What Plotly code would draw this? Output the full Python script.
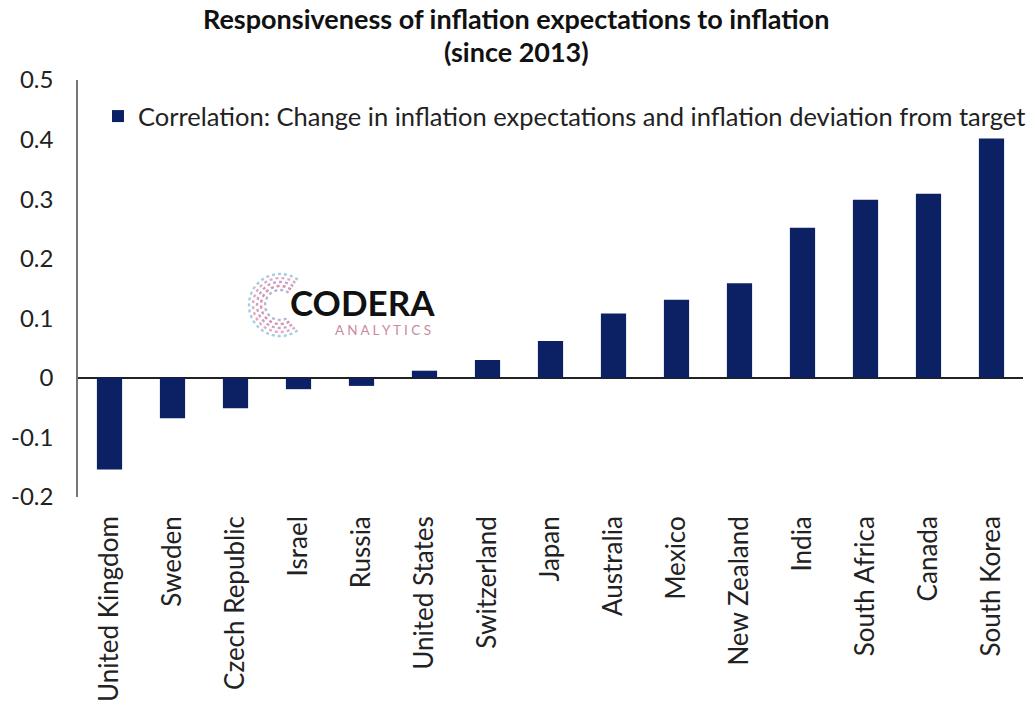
import math
import plotly.graph_objects as go

countries = [
    "United Kingdom", "Sweden", "Czech Republic", "Israel", "Russia",
    "United States", "Switzerland", "Japan", "Australia", "Mexico",
    "New Zealand", "India", "South Africa", "Canada", "South Korea",
]
correlation = [
    -0.154, -0.068, -0.051, -0.019, -0.0135,
    0.012, 0.030, 0.062, 0.108, 0.131,
    0.159, 0.252, 0.299, 0.309, 0.402,
]
y_ticks = [0.5, 0.4, 0.3, 0.2, 0.1, 0, -0.1, -0.2]
y_tick_labels = ["0.5", "0.4", "0.3", "0.2", "0.1", "0", "-0.1", "-0.2"]

NAVY = "#0c2163"
FONT = "Lato"

# Canvas and plot-area geometry (pixels)
W, H = 1031, 702
L, R, T, B = 78, 8, 80, 205
pw, ph = W - L - R, H - T - B


def px_x(x):
    return (x - L) / pw


def px_y(y):
    return (H - B - y) / ph


fig = go.Figure()
fig.add_trace(go.Bar(
    x=countries,
    y=correlation,
    name="Correlation: Change in inflation expectations and inflation deviation from target",
    marker=dict(color=NAVY, line=dict(width=0)),
    showlegend=True,
))

# Brand mark: dotted arcs forming a "C" plus the wordmark
arc_colors = ["#a6cbe6", "#e9a9bd", "#c7a3cc", "#d991aa", "#b7b4da"]
cx, cy = 280, 305
for i, col in enumerate(arc_colors):
    r = 31 - i * 4
    pts = []
    for k in range(0, 41):
        a = math.radians(55 + k * 6.25)
        pts.append((cx + r * math.cos(a), cy - r * math.sin(a)))
    path = "M " + " L ".join(f"{px_x(p):.4f},{px_y(q):.4f}" for p, q in pts)
    fig.add_shape(type="path", path=path, xref="paper", yref="paper",
                  line=dict(color=col, width=2.4, dash="dot"), layer="below")

fig.add_annotation(text="<b>CODERA</b>", x=px_x(288), y=px_y(302),
                   xref="paper", yref="paper", xanchor="left", yanchor="middle",
                   showarrow=False,
                   font=dict(family=FONT, size=35, color="#111111"))
fig.add_annotation(text="A N A L Y T I C S", x=px_x(333), y=px_y(330),
                   xref="paper", yref="paper", xanchor="left", yanchor="middle",
                   showarrow=False,
                   font=dict(family=FONT, size=13.5, color="#c98aa2"))

# Two-line title, centred on the page
fig.add_annotation(text="<b>Responsiveness of inflation expectations to inflation</b>",
                   x=px_x(516), y=px_y(18), xref="paper", yref="paper",
                   xanchor="center", yanchor="middle", showarrow=False,
                   font=dict(family=FONT, size=27, color="#111111"))
fig.add_annotation(text="<b>(since 2013)</b>",
                   x=px_x(516), y=px_y(51), xref="paper", yref="paper",
                   xanchor="center", yanchor="middle", showarrow=False,
                   font=dict(family=FONT, size=27, color="#111111"))

fig.update_layout(
    width=W,
    height=H,
    paper_bgcolor="white",
    plot_bgcolor="white",
    margin=dict(l=L, r=R, t=T, b=B, autoexpand=False),
    font=dict(family=FONT, color="#222222"),
    bargap=0.6,
    legend=dict(
        x=px_x(98), y=px_y(93), xanchor="left", yanchor="top",
        font=dict(family=FONT, size=25.5, color="#222222"),
        bgcolor="rgba(0,0,0,0)", itemwidth=30,
    ),
    xaxis=dict(
        tickangle=-90,
        tickfont=dict(family=FONT, size=26, color="#222222"),
        showline=False, showgrid=False, zeroline=False,
        ticks="", ticklabelstandoff=13,
    ),
    yaxis=dict(
        range=[-0.2, 0.5],
        tickvals=y_ticks, ticktext=y_tick_labels,
        tickfont=dict(family=FONT, size=24, color="#222222"),
        showgrid=False,
        showline=True, linecolor="#777777", linewidth=1.5,
        zeroline=True, zerolinecolor="#222222", zerolinewidth=1.5,
        ticks="", ticklabelstandoff=18,
    ),
)

fig.write_html("out.html")
